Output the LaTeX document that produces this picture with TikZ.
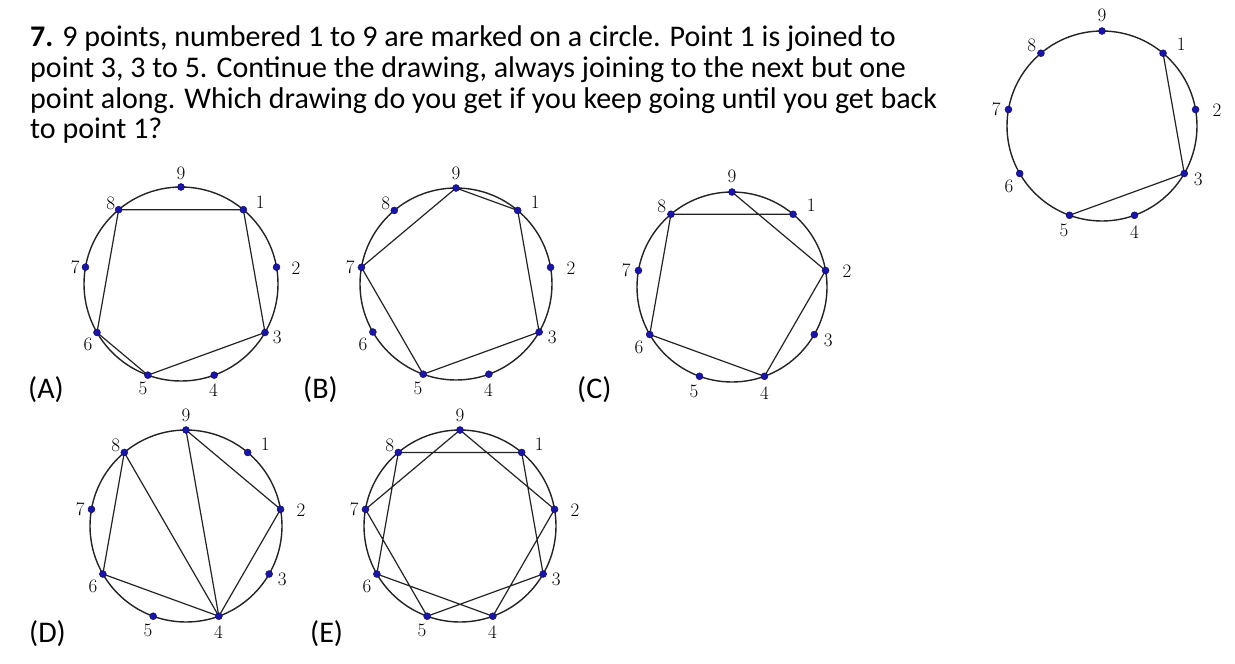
\documentclass[tikz,border=0pt]{standalone}
\usepackage{fontspec}
\newfontfamily\calibri{Carlito}
\usetikzlibrary{calc}
\definecolor{dotblue}{RGB}{25,20,170}
\definecolor{ink}{RGB}{35,35,35}
\tikzset{
 ring/.style={draw=ink, line width=1.4pt},
 chord/.style={draw=ink, line width=1.2pt, line join=round},
 ptdot/.style={circle, fill=dotblue, draw=dotblue!55!black, line width=0.4pt, inner sep=0pt, minimum size=7pt},
 ptnum/.style={font=\fontsize{19}{22}\selectfont, inner sep=0pt, text=black},
 qtext/.style={font=\calibri\fontsize{30}{36}\selectfont, anchor=base west, inner sep=0pt},
}
\newcommand\ninering[4]{% prefix, cx, cy, r
  \coordinate (#1c) at (#2,#3);
  \draw[ring] (#1c) circle[radius=#4pt];
  \foreach \i/\a in {1/50,2/10,3/-30,4/-70,5/-110,6/-150,7/170,8/130,9/90}
    {\coordinate (#1\i) at ([shift={(\a:#4pt)}]#2,#3);}
}
\newcommand\ninedots[1]{%
  \foreach \i/\la/\ld in {1/46/114,2/8/116,3/-29/110,4/-73/111,5/-110/111,6/-147/111,7/171/107,8/131/107,9/90/111}
    {\node[ptdot] (#1d\i) at (#1\i) {};
     \node[ptnum] (#1n\i) at ([shift={(\la:\ld pt)}]#1c) {\i};}
}
\begin{document}
\begin{tikzpicture}[x=1pt,y=-1pt]
\useasboundingbox (0,0) rectangle (1235,664);
\fill[white] (0,0) rectangle (1235,664);

% question text
\node[qtext] (l1) at (30,46) {\textbf{7.} 9 points, numbered 1 to 9 are marked on a circle. Point 1 is joined to};
\node[qtext] (l2) at (30,77) {point 3, 3 to 5. Continue the drawing, always joining to the next but one};
\node[qtext] (l3) at (30,108) {point along. Which drawing do you get if you keep going until you get back};
\node[qtext] (l4) at (30,138) {to point 1?};

% option labels
\node[qtext] (la) at (28,398) {(A)};
\node[qtext] (lb) at (303,398) {(B)};
\node[qtext] (lc) at (577,398) {(C)};
\node[qtext] (ld) at (29,642) {(D)};
\node[qtext] (le) at (310,642) {(E)};

% top-right circle
\ninering{T}{1102}{126}{95}
\draw[chord] (T1) -- (T3) -- (T5);
\ninedots{T}

% A
\ninering{A}{181}{284}{97}
\draw[chord] (A8) -- (A1) -- (A3) -- (A5) -- (A6) -- (A8);
\ninedots{A}

% B
\ninering{B}{456}{284}{96}
\draw[chord] (B9) -- (B1) -- (B3) -- (B5) -- (B7) -- (B9);
\ninedots{B}

% C
\ninering{C}{732}{287}{95}
\draw[chord] (C1) -- (C8) -- (C6) -- (C4) -- (C2) -- (C9);
\ninedots{C}

% D
\ninering{D}{186}{526}{96}
\draw[chord] (D9) -- (D2) -- (D4) -- (D9);
\draw[chord] (D4) -- (D8) -- (D6) -- (D4);
\ninedots{D}

% E
\ninering{E}{460}{526}{96}
\draw[chord] (E1) -- (E3) -- (E5) -- (E7) -- (E9) -- (E2) -- (E4) -- (E6) -- (E8) -- (E1);
\ninedots{E}
\end{tikzpicture}
\end{document}
